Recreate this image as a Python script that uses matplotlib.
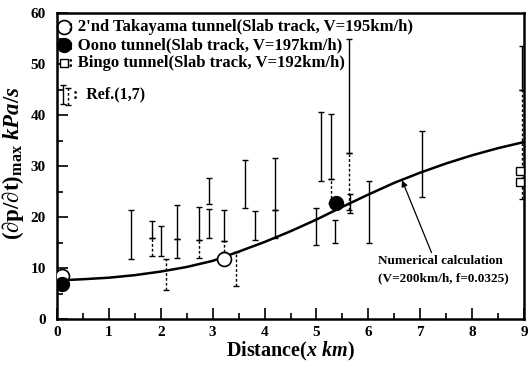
import numpy as np
import matplotlib.pyplot as plt
from matplotlib.ticker import MultipleLocator

plt.rcParams['font.family'] = ['Liberation Serif', 'DejaVu Serif']
plt.rcParams['font.weight'] = 'bold'
plt.rcParams['axes.labelweight'] = 'bold'
plt.rcParams['mathtext.fontset'] = 'custom'
plt.rcParams['mathtext.rm'] = 'Liberation Serif:bold'
plt.rcParams['mathtext.it'] = 'Liberation Serif:italic:bold'
plt.rcParams['mathtext.bf'] = 'Liberation Serif:bold'

# numerical calculation (V=200km/h, f=0.0325)
calc_x = [0.1, 0.5, 1.0, 1.5, 2.0, 2.5, 3.0, 3.5, 4.0, 4.5, 5.0, 5.5, 6.0, 6.5, 7.0, 7.5, 8.0, 8.5, 9.0]
calc_y = [7.6, 7.8, 8.1, 8.6, 9.3, 10.2, 11.4, 13.2, 15.1, 17.2, 19.5, 22.0, 24.4, 26.7, 28.7, 30.5, 32.1, 33.5, 34.7]

# measured tunnels
takayama_x = [0.09, 3.21]
takayama_y = [8.4, 11.8]
oono_x = [0.09, 5.37]
oono_y = [6.8, 22.7]
bingo_x = [8.93, 8.93]
bingo_y = [29.0, 26.8]

# Ref.(1,7) ranges, solid bars
ref_x = [1.42, 1.84, 2.01, 2.31, 2.31, 2.73, 2.92, 2.92, 3.21, 3.63, 3.82, 4.20, 4.20,
         4.99, 5.09, 5.29, 5.35, 5.62, 5.65, 6.02, 7.04, 8.96]
ref_lo = [11.7, 15.8, 12.3, 15.6, 11.9, 15.4, 22.5, 15.8, 15.2, 21.7, 15.4, 21.3, 15.8,
          14.6, 27.1, 27.5, 15.0, 32.6, 20.8, 15.0, 24.0, 45.0]
ref_hi = [21.3, 19.2, 18.3, 22.3, 15.6, 21.9, 27.7, 21.5, 21.3, 31.2, 21.2, 31.5, 21.3,
          21.7, 40.6, 40.2, 19.4, 55.0, 24.6, 27.1, 36.9, 53.5]
# Ref.(1,7) ranges, dashed bars
refd_x = [1.84, 2.11, 2.73, 3.21, 3.45, 5.29, 5.62, 8.96]
refd_lo = [12.3, 5.6, 11.9, 13.1, 6.5, 22.7, 21.3, 23.5]
refd_hi = [15.8, 11.7, 15.4, 15.2, 13.1, 27.5, 32.6, 45.0]

fig = plt.figure(figsize=(5.28, 3.70), dpi=100)
ax = fig.add_axes([57 / 528, 1 - 319 / 370, 467 / 528, 306 / 370])


def range_bars(x, lo, hi, ls):
    lo = np.array(lo)
    hi = np.array(hi)
    mid = (lo + hi) / 2
    eb = ax.errorbar(x, mid, yerr=(hi - lo) / 2, fmt='none', ecolor='black',
                     elinewidth=1.0, capsize=2.5, capthick=1.0)
    eb[2][0].set_linestyle(ls)


range_bars(ref_x, ref_lo, ref_hi, '-')
range_bars(refd_x, refd_lo, refd_hi, (0, (2, 1.5)))

ax.plot(calc_x, calc_y, color='black', lw=1.8, zorder=3)

ax.plot(takayama_x, takayama_y, 'o', ms=10, mfc='white', mec='black', mew=1.2, zorder=4)
ax.plot(oono_x, oono_y, 'o', ms=10, mfc='black', mec='black', zorder=5)
ax.plot(bingo_x, bingo_y, 's', ms=6, mfc='white', mec='black', mew=1.0, zorder=4)

ax.annotate('Numerical calculation\n(V=200km/h, f=0.0325)', xy=(6.65, 27.2),
            xytext=(6.18, 6.9), fontsize=9.5, ha='left', va='bottom', linespacing=1.5,
            arrowprops=dict(arrowstyle='-|>', color='black', lw=0.9,
                            shrinkA=0, shrinkB=0, mutation_scale=9,
                            relpos=(0.42, 1.0)))

# legend drawn by hand
leg_y = [0.954, 0.895, 0.838]
leg_txt = [": 2'nd Takayama tunnel(Slab track, V=195km/h)",
           ": Oono tunnel(Slab track, V=197km/h)",
           ": Bingo tunnel(Slab track, V=192km/h)"]
ax.plot(0.014, leg_y[0], 'o', ms=10, mfc='white', mec='black', mew=1.2,
        transform=ax.transAxes, clip_on=False)
ax.plot(0.014, leg_y[1], 'o', ms=10, mfc='black', mec='black',
        transform=ax.transAxes, clip_on=False)
ax.plot(0.014, leg_y[2], 's', ms=6, mfc='white', mec='black', mew=1.0,
        transform=ax.transAxes, clip_on=False)
for yy, tt in zip(leg_y, leg_txt):
    ax.text(0.024, yy, tt, transform=ax.transAxes, fontsize=12, va='center', ha='left')
ax.errorbar([0.11], [44.0], yerr=[[1.8], [1.8]], fmt='none', ecolor='black',
            elinewidth=1.0, capsize=2.0)
ax.errorbar([0.22], [43.6], yerr=[[1.6], [1.6]], fmt='none', ecolor='black',
            elinewidth=1.0, capsize=2.0)[2][0].set_linestyle((0, (2, 1.5)))
ax.text(0.035, 0.735, ':  Ref.(1,7)', transform=ax.transAxes, fontsize=11.5,
        va='center', ha='left')

ax.set_xlim(0, 9)
ax.set_ylim(0, 60)
ax.xaxis.set_major_locator(MultipleLocator(1))
ax.xaxis.set_minor_locator(MultipleLocator(0.5))
ax.yaxis.set_major_locator(MultipleLocator(10))
ax.yaxis.set_minor_locator(MultipleLocator(5))
ax.tick_params(which='both', direction='in', labelsize=11, width=1.2)
ax.tick_params(which='major', length=8)
ax.tick_params(which='minor', length=4.5)
ax.tick_params(axis='y', pad=8)
ax.tick_params(axis='x', pad=5)
for s in ax.spines.values():
    s.set_linewidth(1.8)

ax.set_xlabel(r'Distance($x\ km$)', fontsize=14.5, labelpad=1)
ax.set_ylabel(r'$(\partial\mathrm{p}/\partial\mathrm{t})_{\max}\ kPa/s$', fontsize=16.5)
ax.yaxis.set_label_coords(-0.066, 0.51)

fig.savefig('out.png', dpi=100)
